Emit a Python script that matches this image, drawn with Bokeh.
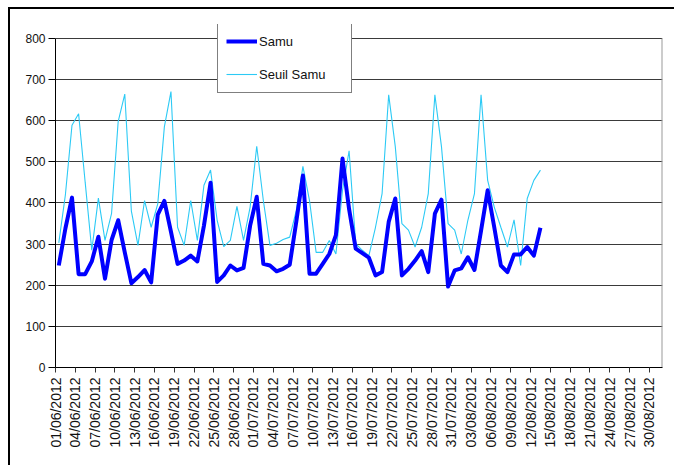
from bokeh.plotting import figure
from bokeh.models import FixedTicker, Legend, LegendItem, ColumnDataSource, Range1d
from bokeh.embed import file_html
from bokeh.resources import INLINE
import math

# day index 0 = 01/06/2012
samu = [248, 338, 413, 227, 227, 258, 318, 216, 310, 358,
        280, 205, 220, 237, 207, 372, 405, 330, 252, 260,
        272, 258, 345, 449, 208, 224, 248, 236, 242, 345,
        415, 252, 248, 234, 240, 250, 355, 467, 228, 228,
        252, 276, 322, 508, 385, 289, 278, 267, 224, 232,
        354, 411, 224, 240, 260, 283, 232, 374, 408, 197,
        236, 241, 268, 237, 333, 431, 341, 248, 232, 275,
        275, 293, 272, 340]
seuil = [303, 420, 589, 617, 450, 285, 412, 309, 375, 598,
         665, 380, 297, 406, 341, 398, 585, 671, 341, 297,
         406, 309, 443, 480, 358, 294, 309, 392, 309, 390,
         538, 406, 297, 302, 311, 317, 382, 489, 406, 280,
         280, 309, 276, 431, 527, 301, 285, 272, 341, 423,
         663, 537, 350, 334, 293, 341, 423, 663, 537, 350,
         334, 276, 358, 423, 663, 455, 390, 341, 293, 359,
         248, 411, 455, 480]
tick_labels = ["01/06/2012", "04/06/2012", "07/06/2012", "10/06/2012", "13/06/2012",
               "16/06/2012", "19/06/2012", "22/06/2012", "25/06/2012", "28/06/2012",
               "01/07/2012", "04/07/2012", "07/07/2012", "10/07/2012", "13/07/2012",
               "16/07/2012", "19/07/2012", "22/07/2012", "25/07/2012", "28/07/2012",
               "31/07/2012", "03/08/2012", "06/08/2012", "09/08/2012", "12/08/2012",
               "15/08/2012", "18/08/2012", "21/08/2012", "24/08/2012", "27/08/2012",
               "30/08/2012"]
n_days = 92
tick_step = 3
y_ticks = [0, 100, 200, 300, 400, 500, 600, 700, 800]
y_max = 800
y_view_top = 834  # room above the axis for the legend box

# points sit in the middle of each day slot
xs = [i + 0.5 for i in range(len(samu))]
src = ColumnDataSource(dict(x=xs, samu=samu, seuil=seuil))

FONT = "Liberation Sans"

p = figure(width=666, height=458, output_backend="svg", toolbar_location=None,
           x_range=Range1d(0, n_days), y_range=Range1d(0, y_view_top),
           min_border_left=45, min_border_right=14, min_border_top=15, min_border_bottom=100,
           background_fill_color="white", border_fill_color="white",
           styles={"margin-left": "8px", "margin-top": "7px",
                   "border-left": "2px solid black", "border-top": "2px solid black"})
p.outline_line_color = None

tick_pos = [i * tick_step for i in range(len(tick_labels))]
p.xaxis.ticker = FixedTicker(ticks=tick_pos)
p.xaxis.major_label_overrides = {t: lab for t, lab in zip(tick_pos, tick_labels)}
p.xaxis.major_label_orientation = math.pi / 2
p.xaxis.major_label_text_font = FONT
p.xaxis.major_label_text_font_size = "14px"
p.xaxis.major_label_text_color = "#111111"
p.xaxis.major_tick_out = 5
p.xaxis.major_tick_in = 0
p.xaxis.minor_tick_line_color = None
p.xaxis.axis_line_color = "black"
p.xaxis.major_tick_line_color = "#333333"
p.xaxis.major_label_standoff = 5

p.yaxis.ticker = FixedTicker(ticks=y_ticks)
p.yaxis.bounds = (0, y_max)
p.yaxis.major_label_text_font = FONT
p.yaxis.major_label_text_font_size = "12px"
p.yaxis.major_label_text_color = "#111111"
p.yaxis.major_tick_out = 7
p.yaxis.major_tick_in = 0
p.yaxis.minor_tick_line_color = None
p.yaxis.axis_line_color = "black"
p.yaxis.major_tick_line_color = "black"
p.yaxis.major_label_standoff = 3

p.xgrid.grid_line_color = None
p.ygrid.grid_line_color = "#3a3a3a"
p.ygrid.grid_line_width = 1

# right border of the plot area
p.segment(x0=[n_days], y0=[0], x1=[n_days], y1=[y_max], line_color="#9a9a9a", line_width=2)

r_seuil = p.line("x", "seuil", source=src, line_color="#2ccaf5", line_width=1.1)
r_samu = p.line("x", "samu", source=src, line_color="#0000ff", line_width=4, line_join="round")

legend = Legend(items=[LegendItem(label="Samu", renderers=[r_samu]),
                       LegendItem(label="Seuil Samu", renderers=[r_seuil])],
                location=(162, 274), orientation="vertical")
legend.padding = 8
legend.spacing = 13
legend.glyph_width = 31
legend.glyph_height = 20
legend.label_height = 20
legend.label_width = 84
legend.label_standoff = 2
legend.margin = 0
legend.label_text_font = FONT
legend.label_text_font_size = "13px"
legend.label_text_color = "#111111"
legend.border_line_color = "black"
legend.border_line_width = 1.5
legend.background_fill_color = "white"
legend.background_fill_alpha = 1.0
p.add_layout(legend, "center")

open("out.html", "w").write(file_html(p, INLINE))
